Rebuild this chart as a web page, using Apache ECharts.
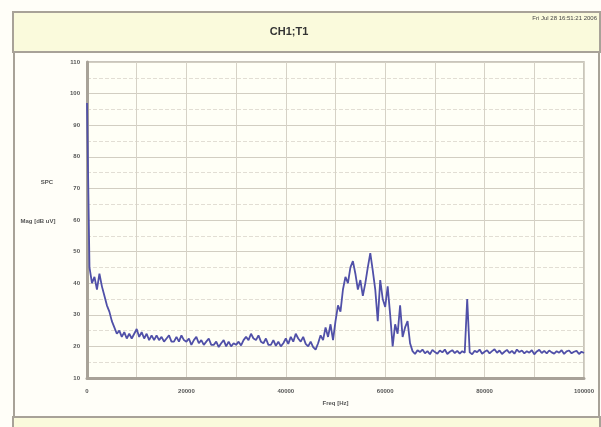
<!DOCTYPE html>
<html><head><meta charset="utf-8">
<script src="https://cdn.jsdelivr.net/npm/echarts@6/dist/echarts.min.js"></script>
<style>html,body{margin:0;padding:0;background:#fffef8;}#c{width:601px;height:427px;}</style>
</head><body><div id="c"></div>
<script>
const titleText = 'CH1;T1';
const dateText = 'Fri Jul 28 16:51:21 2006';
const xAxisName = 'Freq [Hz]';
const yAxisName = 'Mag [dB uV]';
const yAxisTag = 'SPC';
const freqStep = 500;
const xTicks = [0, 20000, 40000, 60000, 80000, 100000];
const yTicks = [10, 20, 30, 40, 50, 60, 70, 80, 90, 100, 110];
const mags = [
 97, 45, 40, 42, 38, 43, 39, 36, 33, 31,
 28, 26, 24, 25, 23, 24.5, 22.5, 24, 22.5, 24,
 25.5, 23, 24.5, 22.5, 24, 22, 23.5, 22, 23.5, 22,
 23, 21.5, 22.5, 23.5, 21.5, 21.5, 23, 21.5, 23.5, 22,
 21.5, 22.5, 20.5, 22, 23, 21, 22, 20.5, 21.5, 22.5,
 20.5, 20.5, 21.5, 19.8, 21, 22, 20, 21.5, 20, 21,
 20.5, 21.5, 20.3, 22, 23, 22, 24, 22.5, 22, 23.5,
 21.5, 21, 22.5, 20.5, 20.5, 22, 20.2, 21.5, 20, 21,
 22.5, 20.8, 23, 21.5, 24, 22.5, 21.5, 23, 20.8, 20,
 21.5, 19.8, 19, 21, 23.5, 22, 26, 23, 27, 22,
 28, 33, 31, 38, 42, 40, 45, 47, 43, 38,
 41, 36, 40, 45, 49.5, 44, 38, 28, 41, 35,
 32.5, 39, 30, 20, 27, 24, 33, 23, 26, 28,
 21, 18.5, 17.6, 18.8, 18.2, 19, 17.8, 18.5, 17.5, 18.9,
 18.2, 17.7, 18.7, 18.1, 19, 17.6, 18.3, 18.8, 17.9, 18.6,
 17.7, 18.5, 18, 35, 18.1, 17.5, 18.6, 18.2, 19, 17.7,
 18.3, 18.8, 17.8, 18.5, 19.1, 18, 18.7, 17.6, 18.3, 18.9,
 17.9, 18.6, 17.7, 19, 18.2, 18.7, 17.8, 18.5, 18, 18.8,
 17.5, 18.4, 18.9, 17.9, 18.6, 17.8, 18.7, 18.1, 17.7, 18.5,
 18, 18.8, 17.6, 18.4, 18.7, 17.8, 18.3, 18.6, 17.6, 18.3,
 17.9
];
const seriesData = mags.map((v, i) => [i * freqStep, v]);

const chart = echarts.init(document.getElementById('c'), null, {renderer: 'canvas'});
chart.setOption({
  animation: false,
  backgroundColor: '#fffef8',
  graphic: [
    {type: 'rect', z: -10, shape: {x: 13, y: 12, width: 587, height: 40}, style: {fill: '#fafadc', stroke: '#a8a298', lineWidth: 2}},
    {type: 'line', z: -10, shape: {x1: 14, y1: 52, x2: 14, y2: 418}, style: {stroke: '#a8a298', lineWidth: 2}},
    {type: 'line', z: -10, shape: {x1: 599, y1: 52, x2: 599, y2: 418}, style: {stroke: '#a8a298', lineWidth: 2}},
    {type: 'rect', z: -10, shape: {x: 13, y: 417, width: 587, height: 14}, style: {fill: '#fafadc', stroke: '#a8a298', lineWidth: 2}},
    {type: 'text', x: 289, y: 32, style: {text: titleText, font: 'bold 11px Arial, "Liberation Sans", sans-serif', fill: '#333', align: 'center', verticalAlign: 'middle'}},
    {type: 'text', right: 4, top: 15, style: {text: dateText, font: '6px Arial, "Liberation Sans", sans-serif', fill: '#444'}},
    {type: 'text', x: 47, y: 182, style: {text: yAxisTag, font: 'bold 6px Arial, "Liberation Sans", sans-serif', fill: '#555', align: 'center', verticalAlign: 'middle'}},
    {type: 'text', x: 38, y: 221, style: {text: yAxisName, font: 'bold 6px Arial, "Liberation Sans", sans-serif', fill: '#555', align: 'center', verticalAlign: 'middle'}}
  ],
  grid: {left: 87, top: 62, right: 17, bottom: 49, show: true, backgroundColor: '#fffff6', borderColor: '#b8b2a8', borderWidth: 1.5},
  xAxis: {
    type: 'value', min: 0, max: 100000, interval: 10000,
    name: xAxisName, nameLocation: 'middle', nameGap: 22,
    nameTextStyle: {fontSize: 6, fontWeight: 'bold', color: '#555', fontFamily: 'Arial'},
    axisLine: {show: true, onZero: false, lineStyle: {color: '#a8a298', width: 3}},
    axisTick: {show: false},
    axisLabel: {fontSize: 6, fontWeight: 'bold', color: '#555', margin: 10, fontFamily: 'Arial',
      formatter: v => xTicks.includes(v) ? String(v) : ''},
    splitLine: {show: true, lineStyle: {color: '#d6d2c6', width: 1}}
  },
  yAxis: {
    type: 'value', min: 10, max: 110, interval: 10,
    axisLine: {show: true, lineStyle: {color: '#a8a298', width: 3}},
    axisTick: {show: false},
    axisLabel: {fontSize: 6, fontWeight: 'bold', color: '#555', margin: 7, fontFamily: 'Arial',
      formatter: v => yTicks.includes(v) ? String(v) : ''},
    splitLine: {show: true, lineStyle: {color: '#d2cec2', width: 1.2}},
    minorTick: {show: false, splitNumber: 2},
    minorSplitLine: {show: true, lineStyle: {color: '#e2ded4', width: 1, type: 'dashed'}}
  },
  series: [{
    type: 'line', data: seriesData, showSymbol: false, symbol: 'none',
    lineStyle: {color: '#5050a8', width: 1.8}
  }]
});
</script></body></html>
